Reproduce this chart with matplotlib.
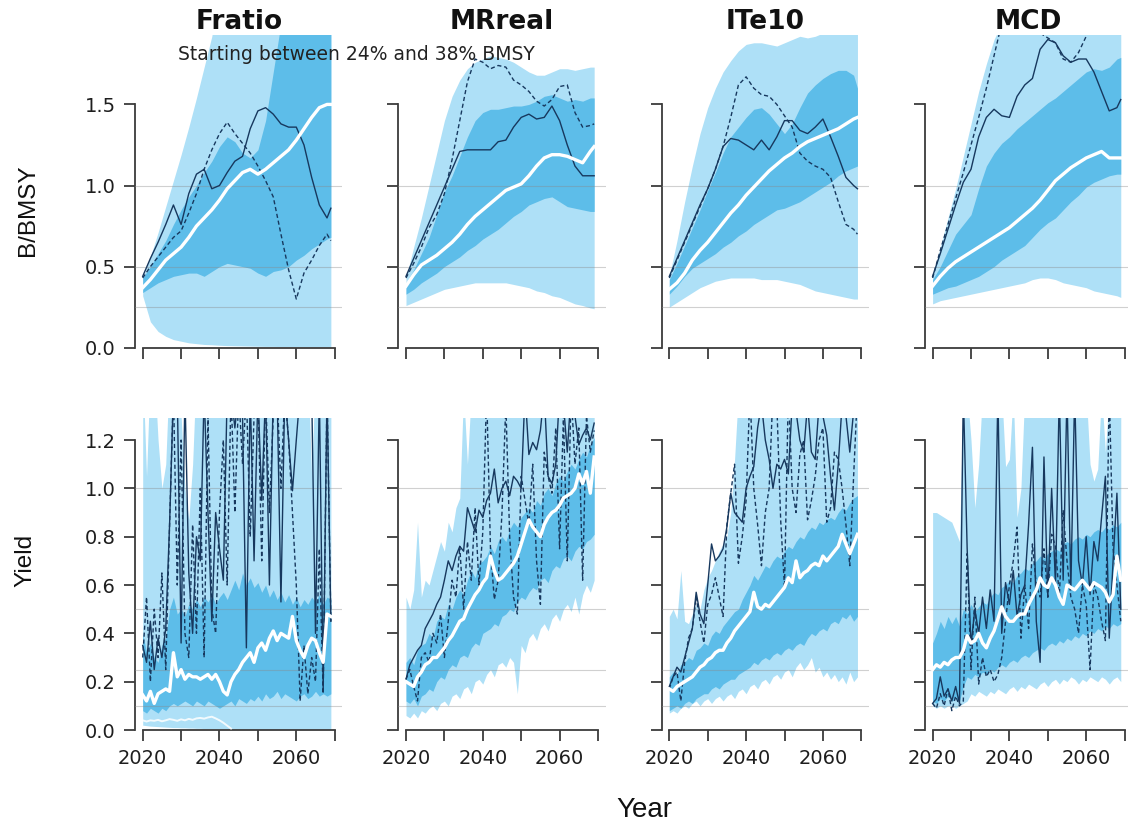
import numpy as np
import matplotlib
matplotlib.use("Agg")
import matplotlib.pyplot as plt

# ---------------------------------------------------------------- data
# Biomass rows use a two-year grid, yield rows are annual.
YEARS_B = list(range(2020, 2069, 2)) + [2069]
YEARS_Y = list(range(2020, 2070))

MPS = ["Fratio", "MRreal", "ITe10", "MCD"]
SUBTITLE = "Starting between 24% and 38% BMSY"
B_REFS = [0.25, 0.5, 1.0]
Y_REFS = [0.1, 0.25, 0.5, 1.0]
B_TICKS = [0.0, 0.5, 1.0, 1.5]
Y_TICKS = [0.0, 0.2, 0.4, 0.6, 0.8, 1.0, 1.2]
X_TICKS = [2020, 2030, 2040, 2050, 2060, 2070]
X_LABELS = ["2020", "", "2040", "", "2060", ""]

# ---- B/BMSY, Fratio
FR_B_LO90 = [0.32, 0.16, 0.10, 0.07, 0.05, 0.04, 0.03, 0.025, 0.02, 0.018, 0.015, 0.013, 0.012,
             0.011, 0.01, 0.009, 0.008, 0.008, 0.007, 0.007, 0.006, 0.006, 0.005, 0.005, 0.005, 0.005]
FR_B_HI90 = [0.43, 0.56, 0.71, 0.87, 1.03, 1.19, 1.36, 1.54, 1.73, 1.92, 2.2, 2.2, 2.2,
             2.2, 2.2, 2.2, 2.2, 2.2, 2.2, 2.2, 2.2, 2.2, 2.2, 2.2, 2.2, 2.2]
FR_B_LO50 = [0.34, 0.37, 0.40, 0.42, 0.44, 0.45, 0.46, 0.46, 0.44, 0.47, 0.50, 0.52, 0.51,
             0.50, 0.49, 0.46, 0.44, 0.47, 0.48, 0.50, 0.54, 0.57, 0.61, 0.64, 0.67, 0.68]
FR_B_HI50 = [0.43, 0.50, 0.58, 0.66, 0.76, 0.85, 0.93, 1.00, 1.08, 1.15, 1.24, 1.30, 1.27,
             1.20, 1.17, 1.22, 1.40, 1.70, 2.0, 2.2, 2.2, 2.2, 2.2, 2.2, 2.2, 2.2]
FR_B_MED = [0.37, 0.42, 0.48, 0.54, 0.58, 0.62, 0.68, 0.75, 0.80, 0.85, 0.91, 0.98, 1.03,
            1.08, 1.10, 1.07, 1.10, 1.14, 1.18, 1.22, 1.28, 1.35, 1.42, 1.48, 1.50, 1.50]
FR_B_SIM1 = [0.44, 0.55, 0.65, 0.76, 0.88, 0.76, 0.95, 1.07, 1.10, 0.98, 1.00, 1.08, 1.15,
             1.18, 1.35, 1.46, 1.48, 1.44, 1.38, 1.36, 1.36, 1.25, 1.05, 0.88, 0.80, 0.86]
FR_B_SIM2 = [0.43, 0.50, 0.56, 0.62, 0.68, 0.72, 0.83, 0.95, 1.10, 1.22, 1.32, 1.39, 1.32,
             1.26, 1.20, 1.12, 1.03, 0.93, 0.70, 0.48, 0.30, 0.46, 0.54, 0.63, 0.70, 0.66]

# ---- B/BMSY, MRreal
MR_B_LO90 = [0.26, 0.28, 0.30, 0.32, 0.34, 0.36, 0.37, 0.38, 0.39, 0.40, 0.40, 0.40, 0.40,
             0.40, 0.39, 0.38, 0.37, 0.35, 0.34, 0.32, 0.31, 0.29, 0.27, 0.26, 0.245, 0.24]
MR_B_HI90 = [0.43, 0.62, 0.80, 1.00, 1.20, 1.40, 1.55, 1.65, 1.72, 1.76, 1.78, 1.80, 1.79,
             1.78, 1.76, 1.73, 1.70, 1.68, 1.68, 1.70, 1.72, 1.72, 1.71, 1.72, 1.73, 1.73]
MR_B_LO50 = [0.33, 0.36, 0.40, 0.43, 0.46, 0.50, 0.53, 0.56, 0.60, 0.63, 0.67, 0.70, 0.73,
             0.77, 0.81, 0.84, 0.88, 0.90, 0.92, 0.93, 0.90, 0.87, 0.86, 0.85, 0.84, 0.84]
MR_B_HI50 = [0.40, 0.48, 0.58, 0.68, 0.82, 0.96, 1.06, 1.18, 1.30, 1.40, 1.45, 1.47, 1.47,
             1.48, 1.49, 1.49, 1.50, 1.52, 1.55, 1.56, 1.54, 1.52, 1.53, 1.52, 1.54, 1.54]
MR_B_MED = [0.38, 0.45, 0.51, 0.54, 0.57, 0.61, 0.65, 0.70, 0.76, 0.81, 0.85, 0.89, 0.93,
            0.97, 0.99, 1.01, 1.06, 1.12, 1.17, 1.19, 1.19, 1.18, 1.16, 1.14, 1.21, 1.24]
MR_B_SIM1 = [0.44, 0.55, 0.66, 0.77, 0.88, 0.99, 1.10, 1.21, 1.22, 1.22, 1.22, 1.22, 1.27,
             1.28, 1.36, 1.42, 1.44, 1.41, 1.42, 1.49, 1.40, 1.25, 1.12, 1.06, 1.06, 1.06]
MR_B_SIM2 = [0.43, 0.52, 0.62, 0.74, 0.82, 0.95, 1.16, 1.40, 1.64, 1.78, 1.76, 1.72, 1.74,
             1.73, 1.65, 1.62, 1.58, 1.52, 1.49, 1.53, 1.61, 1.62, 1.45, 1.36, 1.37, 1.38]

# ---- B/BMSY, ITe10
IT_B_LO90 = [0.25, 0.28, 0.31, 0.34, 0.37, 0.39, 0.41, 0.42, 0.43, 0.43, 0.43, 0.43, 0.42,
             0.42, 0.42, 0.41, 0.40, 0.39, 0.37, 0.35, 0.34, 0.33, 0.32, 0.31, 0.30, 0.30]
IT_B_HI90 = [0.44, 0.66, 0.90, 1.12, 1.32, 1.48, 1.60, 1.70, 1.77, 1.83, 1.87, 1.88, 1.88,
             1.87, 1.86, 1.88, 1.90, 1.92, 1.91, 1.92, 1.94, 1.95, 1.95, 1.96, 1.96, 1.96]
IT_B_LO50 = [0.33, 0.38, 0.44, 0.49, 0.52, 0.55, 0.58, 0.62, 0.65, 0.69, 0.72, 0.76, 0.79,
             0.82, 0.85, 0.86, 0.88, 0.90, 0.93, 0.96, 0.99, 1.02, 1.06, 1.09, 1.11, 1.12]
IT_B_HI50 = [0.42, 0.52, 0.63, 0.74, 0.85, 0.97, 1.08, 1.20, 1.30, 1.36, 1.42, 1.47, 1.48,
             1.44, 1.38, 1.32, 1.38, 1.48, 1.57, 1.62, 1.66, 1.69, 1.71, 1.71, 1.68, 1.60]
IT_B_MED = [0.36, 0.40, 0.46, 0.54, 0.60, 0.65, 0.71, 0.77, 0.83, 0.88, 0.94, 0.99, 1.04,
            1.09, 1.13, 1.17, 1.20, 1.24, 1.27, 1.29, 1.31, 1.33, 1.35, 1.38, 1.41, 1.42]
IT_B_SIM1 = [0.44, 0.55, 0.66, 0.77, 0.88, 0.98, 1.10, 1.24, 1.29, 1.28, 1.25, 1.22, 1.28,
             1.22, 1.30, 1.40, 1.40, 1.34, 1.32, 1.36, 1.41, 1.30, 1.18, 1.05, 1.00, 0.98]
IT_B_SIM2 = [0.43, 0.54, 0.65, 0.76, 0.87, 0.98, 1.10, 1.24, 1.42, 1.62, 1.67, 1.60, 1.56,
             1.55, 1.50, 1.43, 1.36, 1.20, 1.15, 1.12, 1.10, 1.05, 0.90, 0.76, 0.73, 0.70]

# ---- B/BMSY, MCD
MC_B_LO90 = [0.27, 0.29, 0.30, 0.31, 0.32, 0.33, 0.34, 0.35, 0.36, 0.37, 0.38, 0.39, 0.40,
             0.42, 0.43, 0.43, 0.42, 0.40, 0.39, 0.38, 0.37, 0.35, 0.34, 0.33, 0.32, 0.31]
MC_B_HI90 = [0.44, 0.62, 0.80, 0.98, 1.18, 1.38, 1.58, 1.75, 1.90, 2.0, 2.2, 2.2, 2.2,
             2.2, 2.2, 2.2, 2.2, 2.2, 2.2, 2.2, 2.2, 2.2, 2.2, 2.2, 2.2, 2.2]
MC_B_LO50 = [0.33, 0.35, 0.37, 0.38, 0.40, 0.42, 0.44, 0.47, 0.50, 0.54, 0.57, 0.60, 0.63,
             0.68, 0.73, 0.77, 0.80, 0.85, 0.90, 0.94, 0.99, 1.02, 1.04, 1.06, 1.07, 1.07]
MC_B_HI50 = [0.42, 0.50, 0.60, 0.70, 0.76, 0.82, 0.98, 1.12, 1.20, 1.26, 1.30, 1.35, 1.39,
             1.43, 1.47, 1.51, 1.54, 1.58, 1.62, 1.66, 1.70, 1.72, 1.71, 1.73, 1.78, 1.79]
MC_B_MED = [0.38, 0.44, 0.49, 0.53, 0.56, 0.59, 0.62, 0.65, 0.68, 0.71, 0.74, 0.78, 0.82,
            0.86, 0.91, 0.97, 1.03, 1.07, 1.11, 1.14, 1.17, 1.19, 1.21, 1.17, 1.17, 1.17]
MC_B_SIM1 = [0.44, 0.58, 0.73, 0.88, 1.02, 1.10, 1.30, 1.42, 1.47, 1.43, 1.42, 1.55, 1.62,
             1.66, 1.84, 1.90, 1.88, 1.80, 1.76, 1.78, 1.78, 1.70, 1.58, 1.46, 1.48, 1.53]
MC_B_SIM2 = [0.43, 0.60, 0.76, 0.92, 1.08, 1.25, 1.42, 1.60, 1.80, 2.00, 2.10, 2.15, 2.10,
             2.02, 1.94, 1.91, 1.88, 1.78, 1.76, 1.82, 1.92, 2.05, 2.10, 2.05, 1.95, 1.94]

# ---- Yield, Fratio
FR_Y_LO90 = [0.02, 0.018, 0.016, 0.015, 0.014, 0.013, 0.012, 0.011, 0.010, 0.010,
             0.009, 0.009, 0.008, 0.008, 0.007, 0.007, 0.006, 0.006, 0.005, 0.005,
             0.005, 0.004, 0.004, 0.004, 0.003, 0.003, 0.003, 0.003, 0.002, 0.002,
             0.002, 0.002, 0.002, 0.002, 0.002, 0.002, 0.002, 0.002, 0.002, 0.002,
             0.002, 0.002, 0.002, 0.002, 0.002, 0.002, 0.002, 0.002, 0.002, 0.002]
FR_Y_HI90 = [1.5, 1.05, 1.5, 1.5, 1.2, 1.0, 1.1, 1.5, 1.5, 1.5,
             1.3, 1.0, 0.87, 1.1, 1.5, 1.5, 1.5, 1.5, 1.5, 1.5,
             1.5, 1.5, 1.5, 1.5, 1.5, 1.5, 1.5, 1.5, 1.5, 1.5,
             1.5, 1.5, 1.5, 1.5, 1.5, 1.5, 1.5, 1.5, 1.5, 1.5,
             1.5, 1.5, 1.5, 1.5, 1.05, 1.5, 1.5, 1.5, 1.5, 1.5]
FR_Y_LOW5 = [0.040, 0.035, 0.040, 0.038, 0.042, 0.036, 0.040, 0.045, 0.042, 0.038,
             0.044, 0.040, 0.046, 0.042, 0.048, 0.050, 0.047, 0.052, 0.055, 0.048,
             0.040, 0.030, 0.018, 0.006]
FR_Y_LO50 = [0.08, 0.07, 0.09, 0.08, 0.07, 0.09, 0.08, 0.10, 0.11, 0.10,
             0.11, 0.12, 0.11, 0.10, 0.12, 0.11, 0.10, 0.12, 0.11, 0.10,
             0.09, 0.10, 0.11, 0.12, 0.10, 0.13, 0.12, 0.11, 0.13, 0.12,
             0.14, 0.12, 0.15, 0.13, 0.14, 0.16, 0.13, 0.15, 0.14, 0.13,
             0.12, 0.14, 0.15, 0.13, 0.14, 0.16, 0.14, 0.15, 0.14, 0.15]
FR_Y_HI50 = [0.40, 0.32, 0.36, 0.30, 0.28, 0.35, 0.38, 0.50, 0.55, 0.48,
             0.50, 0.47, 0.52, 0.50, 0.54, 0.51, 0.55, 0.53, 0.56, 0.52,
             0.55, 0.57, 0.54, 0.58, 0.62, 0.58, 0.65, 0.60, 0.63, 0.59,
             0.61, 0.57, 0.60, 0.55, 0.58, 0.54, 0.57, 0.53, 0.56, 0.52,
             0.55, 0.51, 0.54, 0.52, 0.55, 0.53, 0.56, 0.52, 0.55, 0.54]
FR_Y_MED = [0.145, 0.12, 0.16, 0.11, 0.15, 0.16, 0.17, 0.16, 0.32, 0.22,
            0.25, 0.21, 0.23, 0.22, 0.22, 0.21, 0.22, 0.23, 0.21, 0.23,
            0.20, 0.16, 0.145, 0.20, 0.23, 0.25, 0.28, 0.30, 0.32, 0.28,
            0.34, 0.36, 0.33, 0.38, 0.41, 0.37, 0.40, 0.39, 0.38, 0.47,
            0.37, 0.33, 0.30, 0.35, 0.38, 0.37, 0.32, 0.28, 0.48, 0.47]
FR_Y_SIM1 = [0.35, 0.28, 0.45, 0.25, 0.38, 0.30, 0.42, 0.85, 1.40, 1.40,
             0.36, 1.40, 0.65, 0.40, 0.80, 0.70, 1.40, 0.90, 0.45, 0.90,
             0.75, 0.62, 1.40, 1.40, 1.25, 1.40, 1.30, 0.34, 1.40, 0.70,
             1.40, 0.95, 1.40, 0.60, 1.40, 1.40, 0.53, 1.40, 1.20, 0.99,
             1.20, 1.40, 1.40, 1.40, 1.40, 0.40, 1.40, 0.17, 1.40, 0.45]
FR_Y_SIM2 = [0.30, 0.55, 0.20, 0.50, 0.30, 0.65, 0.25, 0.85, 1.40, 0.60,
             1.20, 0.40, 0.30, 0.85, 0.40, 1.00, 0.30, 1.30, 0.50, 0.40,
             0.90, 1.20, 0.60, 1.40, 0.90, 1.40, 1.10, 1.40, 0.80, 1.30,
             1.40, 0.70, 1.40, 0.90, 1.30, 1.40, 1.00, 1.40, 1.20, 0.90,
             0.60, 0.12, 0.35, 0.15, 0.30, 0.20, 0.75, 0.15, 1.40, 0.45]

# ---- Yield, MRreal
MR_Y_LO90 = [0.06, 0.05, 0.07, 0.05, 0.08, 0.07, 0.09, 0.10, 0.08, 0.11,
             0.12, 0.10, 0.14, 0.15, 0.13, 0.17, 0.18, 0.15, 0.20, 0.21,
             0.19, 0.23, 0.25, 0.22, 0.27, 0.28, 0.26, 0.30, 0.28, 0.15,
             0.35, 0.32, 0.38, 0.40, 0.37, 0.42, 0.44, 0.41, 0.46, 0.48,
             0.45, 0.50, 0.52, 0.49, 0.55, 0.48, 0.56, 0.60, 0.57, 0.62]
MR_Y_HI90 = [0.55, 0.50, 0.58, 0.86, 0.55, 0.62, 0.60, 0.66, 0.72, 0.78,
             0.74, 0.86, 0.82, 0.92, 0.96, 1.40, 1.10, 1.40, 1.40, 1.40,
             1.40, 1.40, 1.40, 1.40, 1.40, 1.40, 1.40, 1.40, 1.40, 1.40,
             1.40, 1.40, 1.40, 1.40, 1.40, 1.40, 1.40, 1.40, 1.40, 1.40,
             1.40, 1.40, 1.40, 1.40, 1.40, 1.40, 1.40, 1.40, 1.40, 1.40]
MR_Y_LO50 = [0.12, 0.11, 0.13, 0.10, 0.14, 0.15, 0.17, 0.16, 0.20, 0.22,
             0.21, 0.25, 0.27, 0.26, 0.30, 0.31, 0.30, 0.34, 0.36, 0.35,
             0.40, 0.41, 0.42, 0.44, 0.43, 0.47, 0.48, 0.50, 0.49, 0.53,
             0.55, 0.54, 0.57, 0.59, 0.58, 0.62, 0.63, 0.61, 0.66, 0.68,
             0.67, 0.71, 0.72, 0.70, 0.74, 0.76, 0.75, 0.78, 0.79, 0.81]
MR_Y_HI50 = [0.28, 0.30, 0.27, 0.33, 0.35, 0.36, 0.40, 0.38, 0.45, 0.47,
             0.46, 0.52, 0.50, 0.55, 0.58, 0.56, 0.62, 0.66, 0.63, 0.69,
             0.70, 0.72, 0.76, 0.73, 0.78, 0.80, 0.78, 0.83, 0.86, 0.84,
             0.88, 0.90, 0.92, 0.90, 0.95, 0.93, 0.98, 1.00, 0.97, 1.02,
             1.05, 1.03, 1.07, 1.10, 1.08, 1.12, 1.15, 1.13, 1.18, 1.21]
MR_Y_MED = [0.20, 0.19, 0.18, 0.22, 0.24, 0.27, 0.28, 0.30, 0.30, 0.32,
            0.34, 0.37, 0.39, 0.42, 0.45, 0.46, 0.50, 0.53, 0.56, 0.58,
            0.61, 0.63, 0.72, 0.66, 0.62, 0.63, 0.65, 0.67, 0.69, 0.72,
            0.77, 0.82, 0.87, 0.84, 0.82, 0.80, 0.85, 0.88, 0.90, 0.91,
            0.93, 0.96, 0.97, 0.98, 1.00, 1.06, 1.02, 1.07, 0.98, 1.13]
MR_Y_SIM1 = [0.21, 0.27, 0.30, 0.33, 0.35, 0.42, 0.45, 0.48, 0.52, 0.55,
             0.62, 0.70, 0.66, 0.72, 0.76, 0.74, 0.92, 0.87, 0.82, 0.91,
             0.88, 0.95, 0.98, 1.08, 0.94, 1.00, 1.03, 0.97, 1.05, 1.03,
             1.00, 1.40, 1.14, 1.19, 1.16, 1.24, 1.40, 1.05, 1.02, 1.10,
             1.40, 1.35, 1.15, 1.40, 1.30, 1.18, 1.22, 1.25, 1.20, 1.27]
MR_Y_SIM2 = [0.21, 0.25, 0.18, 0.12, 0.30, 0.32, 0.28, 0.40, 0.36, 0.48,
             0.30, 0.45, 0.62, 0.55, 0.76, 0.50, 0.78, 0.62, 0.92, 0.60,
             0.82, 1.40, 0.75, 0.54, 0.62, 0.90, 1.35, 0.80, 0.55, 0.48,
             1.05, 0.95, 0.85, 1.10, 0.70, 0.52, 1.15, 1.05, 0.98, 1.25,
             0.75, 1.30, 0.70, 1.40, 1.10, 1.25, 0.62, 1.30, 1.15, 1.24]

# ---- Yield, ITe10
IT_Y_LO90 = [0.07, 0.08, 0.07, 0.09, 0.10, 0.09, 0.11, 0.12, 0.10, 0.12,
             0.13, 0.11, 0.13, 0.14, 0.12, 0.14, 0.15, 0.13, 0.16, 0.17,
             0.15, 0.18, 0.19, 0.17, 0.20, 0.21, 0.19, 0.22, 0.23, 0.21,
             0.24, 0.25, 0.22, 0.26, 0.28, 0.25, 0.27, 0.30, 0.24, 0.26,
             0.22, 0.24, 0.21, 0.23, 0.20, 0.22, 0.19, 0.24, 0.20, 0.22]
IT_Y_HI90 = [0.47, 0.50, 0.46, 0.66, 0.45, 0.44, 0.48, 0.52, 0.50, 0.58,
             0.63, 0.66, 0.70, 0.74, 0.77, 0.80, 0.90, 1.12, 1.40, 1.40,
             1.40, 1.40, 1.40, 1.40, 1.40, 1.40, 1.40, 1.40, 1.40, 1.40,
             1.40, 1.40, 1.40, 1.40, 1.40, 1.40, 1.40, 1.40, 1.40, 1.40,
             1.40, 1.40, 1.40, 1.40, 1.40, 1.40, 1.40, 1.40, 1.40, 1.40]
IT_Y_LO50 = [0.08, 0.09, 0.10, 0.09, 0.11, 0.12, 0.11, 0.13, 0.14, 0.15,
             0.15, 0.17, 0.18, 0.17, 0.19, 0.20, 0.21, 0.21, 0.23, 0.24,
             0.25, 0.26, 0.28, 0.27, 0.29, 0.30, 0.29, 0.31, 0.32, 0.31,
             0.33, 0.34, 0.33, 0.35, 0.36, 0.35, 0.38, 0.40, 0.39, 0.41,
             0.42, 0.41, 0.44, 0.45, 0.44, 0.47, 0.46, 0.48, 0.45, 0.47]
IT_Y_HI50 = [0.22, 0.24, 0.23, 0.27, 0.28, 0.30, 0.29, 0.33, 0.34, 0.36,
             0.35, 0.39, 0.41, 0.40, 0.43, 0.45, 0.47, 0.49, 0.50, 0.54,
             0.57, 0.60, 0.64, 0.62, 0.65, 0.68, 0.67, 0.70, 0.72, 0.71,
             0.74, 0.76, 0.75, 0.78, 0.80, 0.79, 0.82, 0.84, 0.83, 0.86,
             0.85, 0.87, 0.88, 0.87, 0.90, 0.92, 0.91, 0.94, 0.96, 0.97]
IT_Y_MED = [0.17, 0.16, 0.18, 0.19, 0.20, 0.21, 0.22, 0.24, 0.26, 0.27,
            0.29, 0.30, 0.32, 0.33, 0.33, 0.36, 0.38, 0.41, 0.43, 0.45,
            0.47, 0.49, 0.57, 0.51, 0.50, 0.52, 0.51, 0.53, 0.55, 0.57,
            0.59, 0.63, 0.61, 0.70, 0.63, 0.65, 0.66, 0.68, 0.69, 0.68,
            0.72, 0.70, 0.72, 0.74, 0.76, 0.81, 0.77, 0.73, 0.77, 0.81]
IT_Y_SIM1 = [0.18, 0.22, 0.26, 0.24, 0.30, 0.36, 0.42, 0.57, 0.48, 0.44,
             0.60, 0.77, 0.70, 0.72, 0.75, 0.84, 0.98, 0.90, 0.88, 0.86,
             1.00, 1.05, 1.09, 1.25, 1.35, 1.20, 1.12, 1.00, 1.10, 1.08,
             1.12, 1.06, 1.35, 1.32, 1.20, 1.15, 1.35, 1.15, 1.12, 1.35,
             1.30, 1.22, 1.05, 0.91, 1.10, 1.35, 1.30, 1.15, 1.32, 1.35]
IT_Y_SIM2 = [0.17, 0.22, 0.24, 0.12, 0.28, 0.38, 0.42, 0.55, 0.45, 0.36,
             0.52, 0.56, 0.63, 0.55, 0.47, 0.85, 0.98, 1.10, 0.69, 0.80,
             0.95, 1.40, 1.00, 0.85, 0.68, 0.90, 1.00, 1.40, 1.35, 0.87,
             0.59, 1.40, 1.00, 0.90, 1.14, 1.20, 0.87, 0.95, 1.05, 1.20,
             1.25, 0.86, 0.92, 1.15, 1.12, 1.00, 0.85, 0.68, 1.05, 1.40]

# ---- Yield, MCD
MC_Y_LO90 = [0.10, 0.09, 0.10, 0.09, 0.10, 0.10, 0.09, 0.10, 0.11, 0.12,
             0.15, 0.14, 0.16, 0.15, 0.14, 0.16, 0.15, 0.17, 0.16, 0.15,
             0.17, 0.18, 0.16, 0.18, 0.17, 0.19, 0.18, 0.17, 0.19, 0.20,
             0.18, 0.20, 0.21, 0.19, 0.21, 0.20, 0.22, 0.21, 0.19, 0.21,
             0.20, 0.22, 0.21, 0.20, 0.22, 0.21, 0.19, 0.21, 0.22, 0.20]
MC_Y_HI90 = [0.90, 0.90, 0.89, 0.88, 0.87, 0.86, 0.82, 0.78, 1.40, 1.40,
             1.20, 0.92, 1.10, 1.40, 1.40, 1.30, 1.40, 1.40, 1.40, 1.09,
             1.12, 1.40, 0.88, 1.00, 1.40, 1.40, 1.40, 1.40, 1.40, 1.40,
             1.40, 1.40, 1.40, 1.40, 1.40, 1.40, 1.40, 1.40, 1.40, 1.40,
             1.40, 1.10, 1.03, 1.08, 1.40, 1.15, 1.40, 1.40, 1.40, 1.40]
MC_Y_LO50 = [0.12, 0.11, 0.13, 0.12, 0.14, 0.12, 0.13, 0.12, 0.18, 0.22,
             0.21, 0.23, 0.22, 0.24, 0.23, 0.25, 0.24, 0.26, 0.27, 0.26,
             0.28, 0.29, 0.28, 0.30, 0.31, 0.30, 0.32, 0.33, 0.34, 0.33,
             0.35, 0.36, 0.35, 0.37, 0.36, 0.38, 0.37, 0.39, 0.38, 0.40,
             0.39, 0.41, 0.40, 0.42, 0.41, 0.43, 0.42, 0.44, 0.43, 0.44]
MC_Y_HI50 = [0.36, 0.40, 0.45, 0.42, 0.47, 0.44, 0.47, 0.43, 0.50, 0.48,
             0.52, 0.49, 0.51, 0.53, 0.52, 0.55, 0.57, 0.56, 0.59, 0.60,
             0.62, 0.61, 0.64, 0.65, 0.67, 0.66, 0.69, 0.70, 0.72, 0.71,
             0.73, 0.74, 0.75, 0.74, 0.77, 0.78, 0.77, 0.79, 0.80, 0.79,
             0.81, 0.80, 0.82, 0.83, 0.82, 0.84, 0.83, 0.85, 0.84, 0.86]
MC_Y_MED = [0.25, 0.27, 0.26, 0.28, 0.27, 0.29, 0.30, 0.30, 0.33, 0.39,
            0.36, 0.37, 0.40, 0.36, 0.34, 0.38, 0.41, 0.46, 0.51, 0.47,
            0.45, 0.45, 0.47, 0.48, 0.48, 0.52, 0.55, 0.58, 0.63, 0.60,
            0.59, 0.63, 0.60, 0.55, 0.52, 0.60, 0.59, 0.58, 0.60, 0.62,
            0.60, 0.58, 0.61, 0.60, 0.59, 0.57, 0.53, 0.56, 0.72, 0.62]
MC_Y_SIM1 = [0.11, 0.13, 0.22, 0.14, 0.17, 0.12, 0.18, 0.11, 1.40, 0.75,
             0.35, 0.50, 0.40, 0.55, 0.42, 0.58, 0.45, 1.40, 0.40, 0.61,
             0.52, 0.66, 0.47, 0.56, 0.60, 0.85, 1.17, 0.45, 0.28, 1.13,
             0.55, 1.00, 0.60, 1.40, 0.62, 1.40, 0.58, 1.40, 0.70, 0.60,
             0.80, 0.56, 0.78, 0.70, 0.88, 1.05, 0.38, 0.70, 0.98, 0.50]
MC_Y_SIM2 = [0.11, 0.09, 0.15, 0.10, 0.17, 0.08, 0.14, 0.10, 0.12, 0.73,
             0.25, 0.55, 0.19, 0.30, 0.22, 0.25, 0.20, 0.23, 0.30, 0.45,
             0.60, 0.70, 0.84, 0.38, 0.60, 0.42, 0.77, 0.60, 0.55, 0.75,
             0.55, 0.81, 0.76, 0.55, 0.91, 0.70, 0.55, 0.50, 0.40, 0.60,
             0.52, 0.25, 0.60, 0.55, 0.45, 0.37, 1.40, 0.75, 0.60, 0.45]

B_PANELS = [
    (FR_B_LO90, FR_B_HI90, FR_B_LO50, FR_B_HI50, FR_B_MED, FR_B_SIM1, FR_B_SIM2),
    (MR_B_LO90, MR_B_HI90, MR_B_LO50, MR_B_HI50, MR_B_MED, MR_B_SIM1, MR_B_SIM2),
    (IT_B_LO90, IT_B_HI90, IT_B_LO50, IT_B_HI50, IT_B_MED, IT_B_SIM1, IT_B_SIM2),
    (MC_B_LO90, MC_B_HI90, MC_B_LO50, MC_B_HI50, MC_B_MED, MC_B_SIM1, MC_B_SIM2),
]
Y_PANELS = [
    (FR_Y_LO90, FR_Y_HI90, FR_Y_LO50, FR_Y_HI50, FR_Y_MED, FR_Y_SIM1, FR_Y_SIM2),
    (MR_Y_LO90, MR_Y_HI90, MR_Y_LO50, MR_Y_HI50, MR_Y_MED, MR_Y_SIM1, MR_Y_SIM2),
    (IT_Y_LO90, IT_Y_HI90, IT_Y_LO50, IT_Y_HI50, IT_Y_MED, IT_Y_SIM1, IT_Y_SIM2),
    (MC_Y_LO90, MC_Y_HI90, MC_Y_LO50, MC_Y_HI50, MC_Y_MED, MC_Y_SIM1, MC_Y_SIM2),
]

# ---------------------------------------------------------------- style
C_OUTER = "#aee0f7"
C_INNER = "#5dbde9"
C_SIM = "#17385e"
C_AXIS = "#3c3c3c"
C_REF = "#8a8a8a"
TICK_FONT = "DejaVu Sans"
LABEL_FONT = "Liberation Sans"

W, H = 1128, 830
fig = plt.figure(figsize=(W / 100, H / 100), dpi=100)
fig.patch.set_facecolor("white")

PX_PER_YEAR = 3.84
X0 = [142.7 + 263.3 * i for i in range(4)]      # pixel of 2020 in each column
XMIN, XMAX = 2018, 2072
ROWS = [  # (top px, bottom px, ymax)
    (35.0, 347.7, 1.928),
    (418.3, 730.0, 1.29),
]


def make_axes(col, row):
    top, bot, ymax = ROWS[row]
    left = X0[col] - (2020 - XMIN) * PX_PER_YEAR
    width = (XMAX - XMIN) * PX_PER_YEAR
    ax = fig.add_axes([left / W, 1 - bot / H, width / W, (bot - top) / H])
    ax.set_xlim(XMIN, XMAX)
    ax.set_ylim(0, ymax)
    ax.set_facecolor("white")
    for s in ("top", "right"):
        ax.spines[s].set_visible(False)
    for s in ("left", "bottom"):
        ax.spines[s].set_color(C_AXIS)
        ax.spines[s].set_linewidth(1.3)
    ax.spines["bottom"].set_bounds(2020, 2070)
    ax.tick_params(axis="both", direction="out", length=8, width=1.3,
                   color=C_AXIS, labelcolor="#1e1e1e", labelsize=14)
    ax.tick_params(axis="x", pad=6)
    ax.tick_params(axis="y", pad=6)
    ax.set_xticks(X_TICKS)
    if row == 1:
        ax.set_xticklabels(X_LABELS, fontfamily=TICK_FONT)
    else:
        ax.set_xticklabels([])
    return ax


def draw_panel(ax, years, series, refs, low_line=None):
    lo90, hi90, lo50, hi50, med, sim1, sim2 = series
    ax.fill_between(years, lo90, hi90, color=C_OUTER, lw=0, zorder=1)
    ax.fill_between(years, lo50, hi50, color=C_INNER, lw=0, zorder=2)
    if low_line is not None:
        ax.plot(years[:len(low_line)], low_line, color="white", lw=1.4, alpha=0.85, zorder=3)
    for r in refs:
        ax.axhline(r, color=C_REF, lw=0.8, alpha=0.4, zorder=4)
    ax.plot(years, sim1, color=C_SIM, lw=1.0, zorder=5)
    ax.plot(years, sim2, color=C_SIM, lw=1.0, ls=(0, (3, 2)), zorder=5)
    ax.plot(years, med, color="white", lw=2.4, zorder=6, solid_joinstyle="round")


for col in range(4):
    # biomass row
    ax = make_axes(col, 0)
    draw_panel(ax, YEARS_B, B_PANELS[col], B_REFS)
    ax.spines["left"].set_bounds(0, 1.5)
    ax.set_yticks(B_TICKS)
    if col == 0:
        ax.set_yticklabels([f"{v:.1f}" for v in B_TICKS], fontfamily=TICK_FONT)
    else:
        ax.set_yticklabels([])

    # yield row
    ax = make_axes(col, 1)
    draw_panel(ax, YEARS_Y, Y_PANELS[col], Y_REFS,
               low_line=FR_Y_LOW5 if col == 0 else None)
    ax.spines["left"].set_bounds(0, 1.2)
    ax.set_yticks(Y_TICKS)
    if col == 0:
        ax.set_yticklabels([f"{v:.1f}" for v in Y_TICKS], fontfamily=TICK_FONT)
    else:
        ax.set_yticklabels([])

    # column title, centred on the plot region
    xc = X0[col] + (2045 - 2020) * PX_PER_YEAR
    fig.text(xc / W, 1 - 22 / H, MPS[col], ha="center", va="center",
             fontsize=19, fontweight="bold", fontfamily=TICK_FONT, color="#111111")

fig.text(356 / W, 1 - 55 / H, SUBTITLE, ha="center", va="center",
         fontsize=13.5, fontfamily=TICK_FONT, color="#222222")
fig.text(28 / W, 1 - 210 / H, "B/BMSY", rotation=90, ha="center", va="center",
         fontsize=17.5, fontfamily=LABEL_FONT, color="#111111")
fig.text(25 / W, 1 - 560 / H, "Yield", rotation=90, ha="center", va="center",
         fontsize=17.5, fontfamily=LABEL_FONT, color="#111111")
fig.text(644 / W, 1 - 810 / H, "Year", ha="center", va="center",
         fontsize=20, fontfamily=LABEL_FONT, color="#111111")

fig.savefig("out.png", dpi=100, facecolor="white")
